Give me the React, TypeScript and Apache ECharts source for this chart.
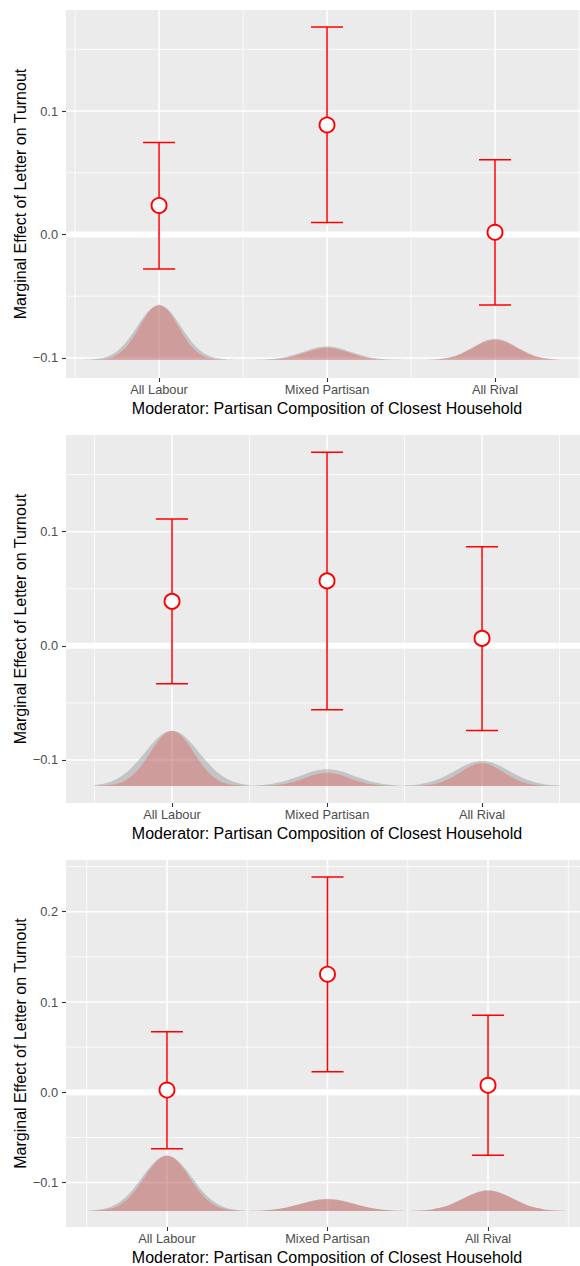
import React, { useEffect, useRef } from "react";
import * as echarts from "echarts";

// Moderator categories on the x axis (positions 1, 2, 3)
const CATEGORIES = ["All Labour", "Mixed Partisan", "All Rival"];

// Marginal effects with lower / upper interval bounds, one set per panel
const EST_1 = [0.0235, 0.0887, 0.0018];
const LOW_1 = [-0.028, 0.0097, -0.0571];
const HIGH_1 = [0.0745, 0.168, 0.0606];

const EST_2 = [0.039, 0.0569, 0.0065];
const LOW_2 = [-0.0333, -0.056, -0.0741];
const HIGH_2 = [0.111, 0.1696, 0.0867];

const EST_3 = [0.0025, 0.1308, 0.0078];
const LOW_3 = [-0.0625, 0.0228, -0.0698];
const HIGH_3 = [0.0672, 0.2386, 0.0853];

// Axis ticks
const X_MAJOR = [1, 2, 3];
const X_MINOR = [0.5, 1.5, 2.5, 3.5];
const Y_TICKS_12 = [-0.1, 0, 0.1];
const Y_MINOR_12 = [-0.05, 0.05, 0.15];
const Y_TICKS_3 = [-0.1, 0, 0.1, 0.2];
const Y_MINOR_3 = [-0.05, 0.05, 0.15, 0.25];

// Distribution strips along the bottom of each panel: heights above the
// strip's baseline, sampled at these distances from each category centre
// (the strips are symmetric about the centre)
const DENSITY_OFFSETS = [0, 0.05, 0.1, 0.15, 0.2, 0.25, 0.3, 0.35, 0.4, 0.45, 0.5];
const DENSITY_BASE = [-0.1015, -0.1228, -0.1315];

const DENS_1_GREY = [
  [0.0445, 0.0413, 0.0331, 0.0229, 0.0136, 0.007, 0.0031, 0.0012, 0.0004, 0.0001, 0],
  [0.0108, 0.0101, 0.0084, 0.0061, 0.0039, 0.0022, 0.0011, 0.0005, 0.0002, 0.0001, 0],
  [0.017, 0.0158, 0.0126, 0.0087, 0.0052, 0.0027, 0.0012, 0.0005, 0.0001, 0, 0],
];
const DENS_1_RED = [
  [0.0445, 0.0405, 0.0305, 0.019, 0.0098, 0.0042, 0.0015, 0.0004, 0.0001, 0, 0],
  [0.0097, 0.009, 0.0072, 0.005, 0.003, 0.0015, 0.0007, 0.0003, 0.0001, 0, 0],
  [0.0162, 0.015, 0.0121, 0.0083, 0.005, 0.0025, 0.0011, 0.0004, 0.0001, 0, 0],
];
const DENS_2_GREY = [
  [0.0484, 0.0465, 0.0411, 0.0335, 0.0252, 0.0175, 0.0111, 0.0065, 0.0035, 0.0018, 0.0008],
  [0.0146, 0.014, 0.0124, 0.0101, 0.0076, 0.0053, 0.0034, 0.002, 0.0011, 0.0005, 0.0002],
  [0.0219, 0.021, 0.0186, 0.0152, 0.0114, 0.0079, 0.005, 0.003, 0.0016, 0.0008, 0.0004],
];
const DENS_2_RED = [
  [0.0484, 0.0454, 0.0375, 0.0272, 0.0175, 0.0098, 0.0049, 0.0021, 0.0008, 0.0003, 0.0001],
  [0.0117, 0.011, 0.0091, 0.0066, 0.0042, 0.0024, 0.0012, 0.0005, 0.0002, 0.0001, 0],
  [0.0199, 0.0187, 0.0154, 0.0112, 0.0072, 0.004, 0.002, 0.0009, 0.0003, 0.0001, 0],
];
const DENS_3_GREY = [
  [0.0614, 0.0583, 0.0499, 0.0384, 0.0267, 0.0167, 0.0095, 0.0048, 0.0022, 0.0009, 0.0003],
  [0.0133, 0.0127, 0.0111, 0.0088, 0.0064, 0.0042, 0.0025, 0.0014, 0.0007, 0.0003, 0.0001],
  [0.0229, 0.0217, 0.0186, 0.0143, 0.01, 0.0062, 0.0035, 0.0018, 0.0008, 0.0003, 0.0001],
];
const DENS_3_RED = [
  [0.0614, 0.0576, 0.0476, 0.0346, 0.0222, 0.0125, 0.0062, 0.0027, 0.001, 0.0003, 0.0001],
  [0.0131, 0.0125, 0.0109, 0.0087, 0.0063, 0.0042, 0.0025, 0.0014, 0.0007, 0.0003, 0.0001],
  [0.0225, 0.0214, 0.0183, 0.0141, 0.0098, 0.0061, 0.0035, 0.0018, 0.0008, 0.0003, 0.0001],
];

const X_TITLE = "Moderator: Partisan Composition of Closest Household";
const Y_TITLE = "Marginal Effect of Letter on Turnout";

const FONT = "'Liberation Sans', Arial, Helvetica, sans-serif";
const PANEL_BG = "#EBEBEB";
const RED = "#FF0000";

type Panel = {
  est: number[];
  low: number[];
  high: number[];
  grey: number[][];
  red: number[][];
  base: number;
  yTicks: number[];
  yMinor: number[];
  xMin: number;
  xMax: number;
  yMin: number;
  yMax: number;
  top: number;
  height: number;
};

const PANELS: Panel[] = [
  {
    est: EST_1, low: LOW_1, high: HIGH_1, grey: DENS_1_GREY, red: DENS_1_RED,
    base: DENSITY_BASE[0], yTicks: Y_TICKS_12, yMinor: Y_MINOR_12,
    xMin: 0.446, xMax: 3.506, yMin: -0.1162, yMax: 0.1818, top: 10, height: 368,
  },
  {
    est: EST_2, low: LOW_2, high: HIGH_2, grey: DENS_2_GREY, red: DENS_2_RED,
    base: DENSITY_BASE[1], yTicks: Y_TICKS_12, yMinor: Y_MINOR_12,
    xMin: 0.316, xMax: 3.632, yMin: -0.1377, yMax: 0.1847, top: 435, height: 368,
  },
  {
    est: EST_3, low: LOW_3, high: HIGH_3, grey: DENS_3_GREY, red: DENS_3_RED,
    base: DENSITY_BASE[2], yTicks: Y_TICKS_3, yMinor: Y_MINOR_3,
    xMin: 0.371, xMax: 3.573, yMin: -0.1492, yMax: 0.2573, top: 860, height: 367,
  },
];

const GRID_LEFT = 66;
const GRID_WIDTH = 514;

function fmtY(v: number): string {
  const s = Math.abs(v).toFixed(1);
  return v < -1e-9 ? "\u2212" + s : s;
}

function stripPoints(profile: number[], centre: number, base: number): number[][] {
  const pts: number[][] = [];
  for (let j = DENSITY_OFFSETS.length - 1; j > 0; j--) {
    pts.push([centre - DENSITY_OFFSETS[j], base + profile[j]]);
  }
  for (let j = 0; j < DENSITY_OFFSETS.length; j++) {
    pts.push([centre + DENSITY_OFFSETS[j], base + profile[j]]);
  }
  return pts;
}

function buildOption() {
  const grid: any[] = [];
  const xAxis: any[] = [];
  const yAxis: any[] = [];
  const series: any[] = [];
  const graphic: any[] = [];

  PANELS.forEach((p, i) => {
    grid.push({
      left: GRID_LEFT,
      top: p.top,
      width: GRID_WIDTH,
      height: p.height,
      show: true,
      backgroundColor: PANEL_BG,
      borderWidth: 0,
    });

    xAxis.push({
      type: "value",
      gridIndex: i,
      min: p.xMin,
      max: p.xMax,
      axisLine: { show: false, onZero: false },
      splitLine: { show: false },
      axisTick: {
        show: true,
        customValues: X_MAJOR,
        length: 4,
        lineStyle: { color: "#333333", width: 1.1 },
      },
      axisLabel: {
        customValues: X_MAJOR,
        margin: 5,
        fontFamily: FONT,
        fontSize: 12.8,
        color: "#4D4D4D",
        formatter: (v: number) => CATEGORIES[Math.round(v) - 1] ?? "",
      },
    });

    yAxis.push({
      type: "value",
      gridIndex: i,
      min: p.yMin,
      max: p.yMax,
      axisLine: { show: false, onZero: false },
      splitLine: { show: false },
      axisTick: {
        show: true,
        customValues: p.yTicks,
        length: 4,
        lineStyle: { color: "#333333", width: 1.1 },
      },
      axisLabel: {
        customValues: p.yTicks,
        margin: 8,
        fontFamily: FONT,
        fontSize: 12.8,
        color: "#4D4D4D",
        formatter: (v: number) => fmtY(v),
      },
    });

    // White panel grid lines (minor thin, major thicker)
    const gridLines = (vals: number[][], width: number) => ({
      type: "custom",
      xAxisIndex: i,
      yAxisIndex: i,
      z: 1,
      silent: true,
      renderItem: (params: any, api: any) => {
        const cs = params.coordSys;
        const dir = api.value(0);
        const v = api.value(1);
        if (dir === 0) {
          const x = api.coord([v, p.yMin])[0];
          return {
            type: "line",
            shape: { x1: x, y1: cs.y, x2: x, y2: cs.y + cs.height },
            style: { stroke: "#FFFFFF", lineWidth: width },
          };
        }
        const y = api.coord([p.xMin, v])[1];
        return {
          type: "line",
          shape: { x1: cs.x, y1: y, x2: cs.x + cs.width, y2: y },
          style: { stroke: "#FFFFFF", lineWidth: width },
        };
      },
      data: vals,
    });

    series.push(
      gridLines(
        [...X_MINOR.map((v) => [0, v]), ...p.yMinor.map((v) => [1, v])],
        0.8
      )
    );
    series.push(
      gridLines(
        [...X_MAJOR.map((v) => [0, v]), ...p.yTicks.map((v) => [1, v])],
        1.5
      )
    );
    // Reference line at zero
    series.push({ ...gridLines([[1, 0]], 6), z: 2 });

    // Distribution strips: grey first, red on top
    const strips: [number[][], string][] = [
      [p.grey, "rgba(128,128,128,0.36)"],
      [p.red, "rgba(255,0,0,0.2)"],
    ];
    strips.forEach(([profiles, color]) => {
      profiles.forEach((prof, k) => {
        series.push({
          type: "line",
          xAxisIndex: i,
          yAxisIndex: i,
          z: 2,
          silent: true,
          smooth: 0.3,
          symbol: "none",
          showSymbol: false,
          lineStyle: { width: 0, opacity: 0 },
          areaStyle: { color, opacity: 1, origin: p.base },
          data: stripPoints(prof, k + 1, p.base),
        });
      });
    });

    // Interval bars with caps
    series.push({
      type: "custom",
      xAxisIndex: i,
      yAxisIndex: i,
      z: 3,
      silent: true,
      encode: { x: 0, y: [1, 2] },
      renderItem: (_params: any, api: any) => {
        const x = api.value(0);
        const lo = api.coord([x, api.value(1)]);
        const hi = api.coord([x, api.value(2)]);
        const half = 16;
        const style = { stroke: RED, lineWidth: 1.5 };
        return {
          type: "group",
          children: [
            { type: "line", shape: { x1: lo[0], y1: lo[1], x2: hi[0], y2: hi[1] }, style },
            { type: "line", shape: { x1: hi[0] - half, y1: hi[1], x2: hi[0] + half, y2: hi[1] }, style },
            { type: "line", shape: { x1: lo[0] - half, y1: lo[1], x2: lo[0] + half, y2: lo[1] }, style },
          ],
        };
      },
      data: p.est.map((_e, k) => [k + 1, p.low[k], p.high[k]]),
    });

    // Point estimates
    series.push({
      type: "scatter",
      xAxisIndex: i,
      yAxisIndex: i,
      z: 4,
      silent: true,
      symbol: "circle",
      symbolSize: 15,
      itemStyle: { color: "#FFFFFF", borderColor: RED, borderWidth: 1.9, opacity: 1 },
      data: p.est.map((e, k) => [k + 1, e]),
    });

    // Axis titles
    graphic.push({
      type: "text",
      x: 327,
      y: p.top + p.height + 30,
      style: {
        text: X_TITLE,
        fontFamily: FONT,
        fontSize: 16,
        fill: "#000000",
        textAlign: "center",
        textVerticalAlign: "middle",
      },
    });
    graphic.push({
      type: "text",
      x: 20,
      y: p.top + p.height / 2,
      rotation: Math.PI / 2,
      style: {
        text: Y_TITLE,
        fontFamily: FONT,
        fontSize: 16,
        fill: "#000000",
        textAlign: "center",
        textVerticalAlign: "middle",
      },
    });
  });

  return {
    animation: false,
    backgroundColor: "#FFFFFF",
    grid,
    xAxis,
    yAxis,
    series,
    graphic,
  };
}

export default function App() {
  const ref = useRef<HTMLDivElement>(null);

  useEffect(() => {
    document.body.style.margin = "0";
    if (!ref.current) return;
    const chart = echarts.init(ref.current, undefined, { renderer: "svg" });
    chart.setOption(buildOption() as any);
    return () => {
      chart.dispose();
    };
  }, []);

  return <div ref={ref} style={{ width: 580, height: 1266 }} />;
}
